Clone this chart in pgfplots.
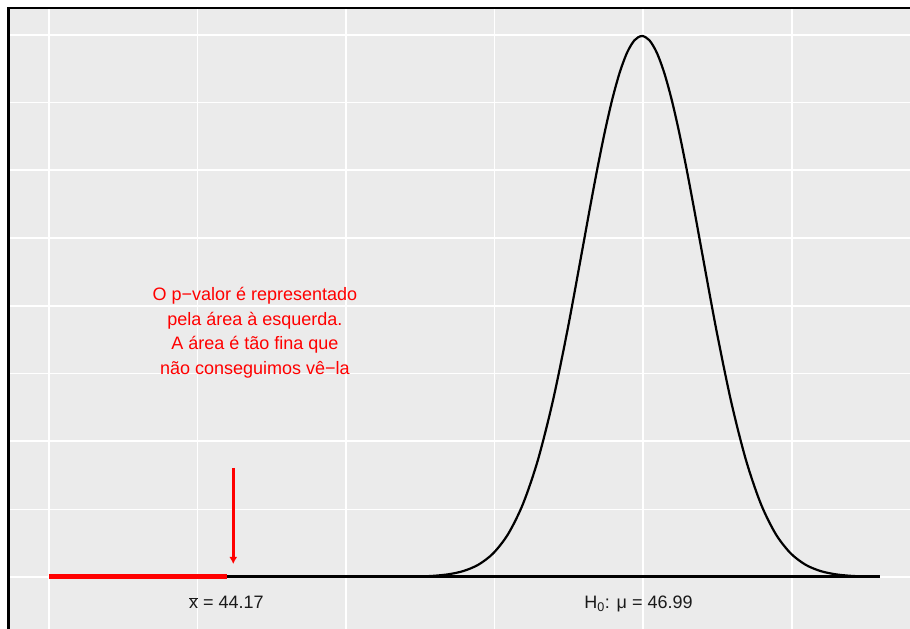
\documentclass[border=0pt]{standalone}
\usepackage{fontspec}
\setmainfont{Liberation Sans}
\usepackage{pgfplots}
\pgfplotsset{compat=1.18}
\usetikzlibrary{arrows.meta}
\definecolor{panelbg}{HTML}{EBEBEB}
\definecolor{lblcol}{HTML}{1A1A1A}

\begin{document}
\begin{tikzpicture}
\path[use as bounding box, fill=white] (0,0) rectangle (910bp,629bp);
\begin{axis}[
  at={(8.5bp,0bp)}, anchor=south west,
  scale only axis, width=901.5bp, height=621bp,
  xmin=42.7275, xmax=48.794, ymin=-0.0959, ymax=1.049,
  xtick={43,45,47}, minor xtick={44,46,48},
  ytick={0,0.25,0.5,0.75,1}, minor ytick={0.125,0.375,0.625,0.875},
  xticklabels={}, yticklabels={},
  grid=both,
  major grid style={white, line width=2bp},
  minor grid style={white, line width=1.1bp},
  major tick length=0pt, minor tick length=0pt,
  axis line style={draw=none},
  axis background/.style={fill=panelbg},
  clip=false,
]
% baseline of the curve
\addplot[black, line width=3bp] coordinates {(44.2,0) (48.59,0)};
% red p-value region
\addplot[red, line width=5bp] coordinates {(43,0) (44.2,0)};
% normal density, mu = 46.99, sd = 0.4
\addplot[black, line width=2.2bp, smooth] coordinates {
(45.39,0.00033) (45.49,0.00088) (45.59,0.00218) (45.69,0.00507) (45.79,0.01108)
(45.89,0.02273) (45.99,0.04382) (46.09,0.07935) (46.19,0.13498) (46.29,0.21569)
(46.39,0.32379) (46.49,0.45663) (46.59,0.60493) (46.64,0.68014) (46.69,0.75285)
(46.74,0.82040) (46.79,0.88017) (46.84,0.92964) (46.89,0.96668) (46.94,0.98960)
(46.99,0.99736) (47.04,0.98960) (47.09,0.96668) (47.14,0.92964) (47.19,0.88017)
(47.24,0.82040) (47.29,0.75285) (47.34,0.68014) (47.39,0.60493) (47.49,0.45663)
(47.59,0.32379) (47.69,0.21569) (47.79,0.13498)
(47.89,0.07935) (47.99,0.04382) (48.09,0.02273) (48.19,0.01108) (48.29,0.00507)
(48.39,0.00218) (48.49,0.00088) (48.59,0.00033)};
% arrow
\addplot[red, line width=2.5bp, -{Latex[length=7bp,width=8bp]}] coordinates {(44.24,0.201) (44.24,0.024)};
% annotation
\node[red, anchor=base, font=\fontsize{18bp}{21bp}\selectfont] at (axis cs:44.386,0.5094) {O p−valor é representado};
\node[red, anchor=base, font=\fontsize{18bp}{21bp}\selectfont] at (axis cs:44.386,0.4642) {pela área à esquerda.};
\node[red, anchor=base, font=\fontsize{18bp}{21bp}\selectfont] at (axis cs:44.386,0.4191) {A área é tão fina que};
\node[red, anchor=base, font=\fontsize{18bp}{21bp}\selectfont] at (axis cs:44.386,0.3739) {não conseguimos vê−la};
% labels
\node[lblcol, anchor=base, font=\fontsize{18bp}{21bp}\selectfont] at (axis cs:44.194,-0.059) {$\overline{\mbox{x}}$ = 44.17};
\node[lblcol, anchor=base, font=\fontsize{18bp}{21bp}\selectfont] at (axis cs:46.967,-0.059) {H\textsubscript{0}: μ = 46.99};
% frame (top and left)
\draw[black, line width=2.7bp] (rel axis cs:0,0) -- (rel axis cs:0,1) -- (rel axis cs:1,1);
\end{axis}
\end{tikzpicture}
\end{document}
